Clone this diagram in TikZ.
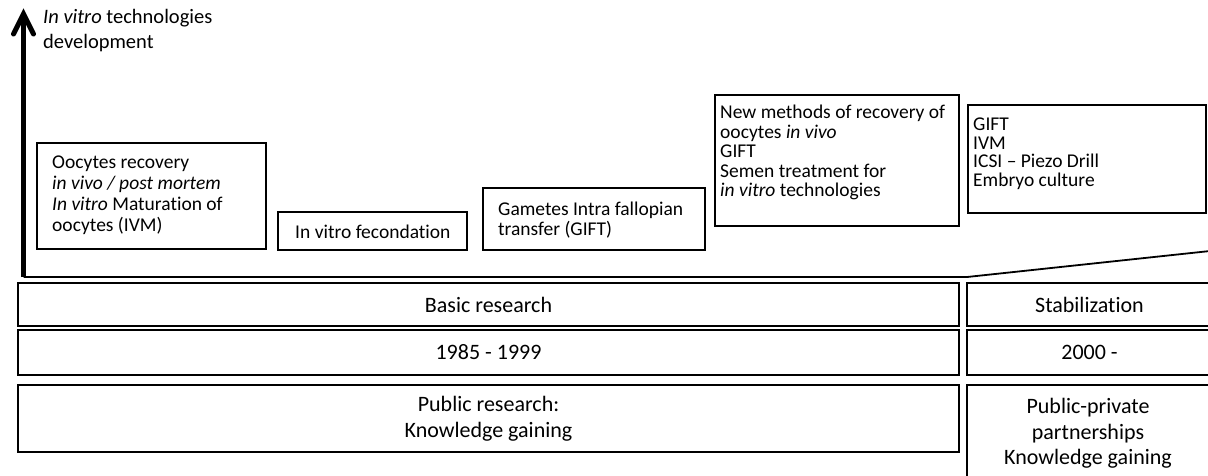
\documentclass[tikz,border=0pt]{standalone}
\usepackage{fontspec}
\setmainfont{Carlito}[Ligatures={NoCommon}]
\tikzset{
  topbox/.style={draw, line width=1.3pt, inner sep=0pt},
  rowbox/.style={draw, line width=2pt, inner sep=0pt, align=center, font=\fontsize{22}{25.5}\selectfont},
  boxtext/.style={inner sep=0pt, align=left, anchor=west},
  axisline/.style={line width=5.5pt},
  chevron/.style={line width=5pt, line join=miter, line cap=round},
}
\begin{document}
\begin{tikzpicture}[x=1pt,y=-1pt]
\useasboundingbox (0,0) rectangle (1208,475);
% axis
\coordinate (abot) at (23.5,277);
\coordinate (atop) at (23.5,14);
\coordinate (hl) at (13.5,34);
\coordinate (hr) at (33.5,34);
\coordinate (hend) at (967,277);
\coordinate (rend) at (1210,251);
\draw[axisline] (abot) -- (atop);
\draw[chevron] (hl) -- (atop) -- (hr);
\draw[line width=1.8pt] (abot) -- (hend) -- (rend);
\node[boxtext, font=\fontsize{20.5}{25}\selectfont] (axlabel) at (43,30.5) {\textit{In vitro} technologies\\development};
% top boxes
\node[topbox, minimum width=229pt, minimum height=106pt] (b1) at (151.5,196) {};
\node[boxtext, font=\fontsize{19.5}{21}\selectfont] (t1) at (52,195.5) {Oocytes recovery\\\textit{in vivo / post mortem}\\\textit{In vitro} Maturation of\\oocytes (IVM)};
\node[topbox, minimum width=189pt, minimum height=38pt] (b2) at (372.5,231) {};
\node[boxtext, font=\fontsize{19.5}{21}\selectfont] (t2) at (295,231.5) {In vitro fecondation};
\node[topbox, minimum width=222pt, minimum height=62pt] (b3) at (594,219) {};
\node[boxtext, font=\fontsize{19.5}{20}\selectfont] (t3) at (498,220) {Gametes Intra fallopian\\transfer (GIFT)};
\node[topbox, minimum width=244pt, minimum height=131pt] (b4) at (837,160.5) {};
\node[boxtext, font=\fontsize{19.5}{19.5}\selectfont] (t4) at (720,152.5) {New methods of recovery of\\oocytes \textit{in vivo}\\GIFT\\Semen treatment for\\\textit{in vitro} technologies};
\node[topbox, minimum width=238pt, minimum height=108pt] (b5) at (1087,159) {};
\node[boxtext, font=\fontsize{19.5}{18.5}\selectfont] (t5) at (973,153.5) {GIFT\\IVM\\ICSI -- Piezo Drill\\Embryo culture};
% rows
\node[rowbox, minimum width=941pt, minimum height=43pt] (r1l) at (488.5,304.5) {Basic research};
\node[rowbox, minimum width=245pt, minimum height=43pt] (r1r) at (1089.5,304.5) {Stabilization};
\node[rowbox, minimum width=941pt, minimum height=45pt] (r2l) at (488.5,352.5) {1985 - 1999};
\node[rowbox, minimum width=245pt, minimum height=45pt] (r2r) at (1089.5,352.5) {2000 -};
\node[rowbox, minimum width=941pt, minimum height=67pt] (r3l) at (488.5,418.5) {Public research:\\Knowledge gaining};
\node[rowbox, minimum width=245pt, minimum height=95pt] (r3r) at (1089.5,432.5) {};
\node[inner sep=0pt, align=center, font=\fontsize{22}{25.5}\selectfont] (t3r) at (1088,433.5) {Public-private\\partnerships\\Knowledge gaining};
\end{tikzpicture}
\end{document}
